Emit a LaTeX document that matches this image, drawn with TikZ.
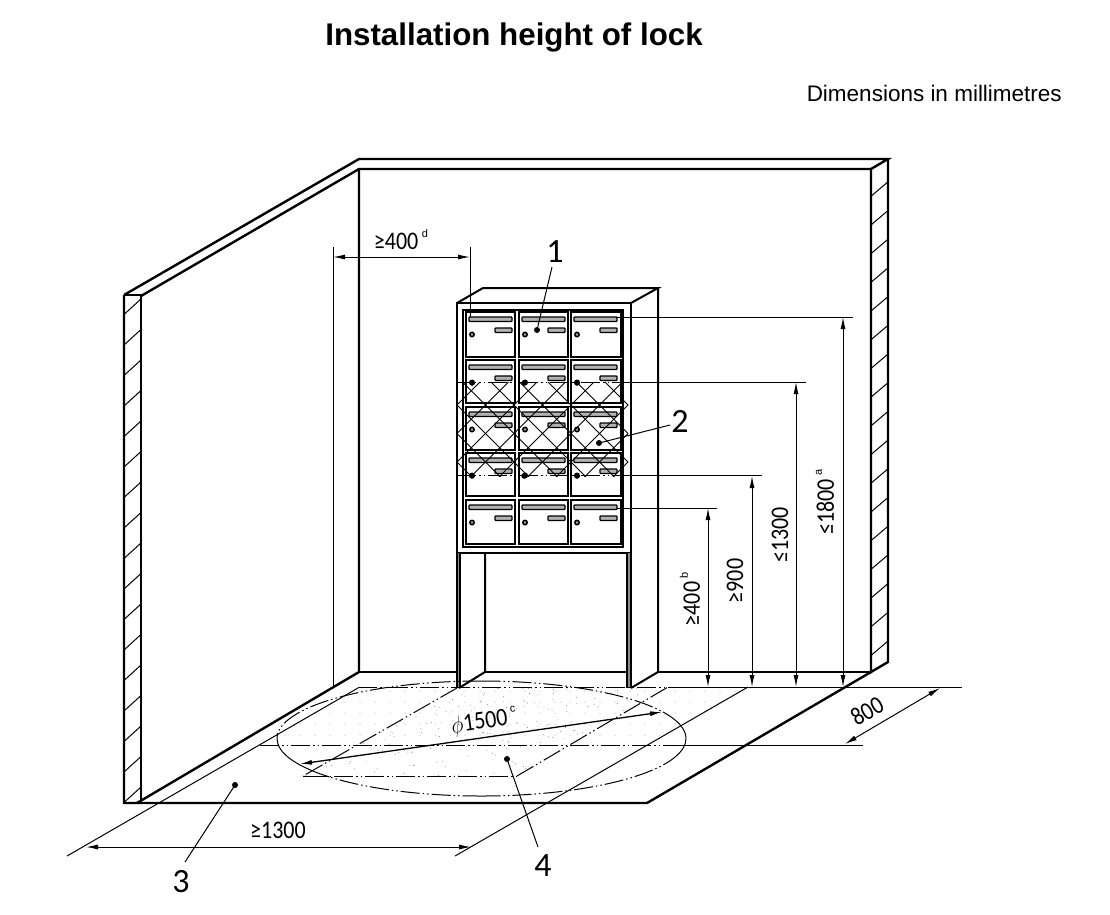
\documentclass[tikz,border=0pt]{standalone}
\usepackage{fontspec}
\setmainfont{Carlito}
\newfontfamily\titlefont{Liberation Sans}
\usetikzlibrary{arrows.meta}

\tikzset{
    heavy/.style={line width=2.4pt, line join=miter},
    medium/.style={line width=2pt},
    thin line/.style={line width=1pt},
    hatchline/.style={line width=1pt},
    phantomline/.style={line width=1pt, dash pattern=on 19pt off 3pt on 1.5pt off 3pt on 1.5pt off 3pt},
    dimline/.style={line width=1pt, {Latex[length=12pt,width=5pt]}-{Latex[length=12pt,width=5pt]}},
    dimtext/.style={font=\fontsize{22}{22}\selectfont, inner sep=0pt},
    numtext/.style={font=\fontsize{34}{34}\selectfont, inner sep=0pt},
    leaderdot/.style={circle, fill=black, inner sep=0pt, minimum size=6pt},
}
\newcommand{\noteletter}[1]{\,\raisebox{.55em}{\titlefont\fontsize{11}{11}\selectfont #1}}
\newcommand{\tallnum}[1]{\scalebox{1}[1.15]{#1}}

\begin{document}
\begin{tikzpicture}[x=1pt, y=-1pt]
    \useasboundingbox (0,0) rectangle (1110,914);

    % Headings
    \node[font=\titlefont\bfseries\fontsize{31.3}{31.3}\selectfont, inner sep=0pt] (title) at (514,37) {Installation height of lock};
    \node[font=\titlefont\fontsize{22.5}{22.5}\selectfont, inner sep=0pt, anchor=east] (units) at (1062,93) {Dimensions in millimetres};

    % Stipple on the floor
    \begin{scope}
        \clip (358,687) -- (748,687) -- (646,745) -- (258,745) -- cycle;
        \foreach \px in {255,270,...,750}
            \foreach \py in {691,702,...,745}
                \fill[black!45] (\px,\py) circle (.5);
    \end{scope}
    \begin{scope}
        \clip (457,687) -- (668,687) -- (517,776) -- (303,776) -- cycle;
        \pgfmathsetseed{11}
        \foreach \i in {1,...,340}
            \fill[black!55] ({300+370*rnd},{687+89*rnd}) circle (.45);
    \end{scope}

    % Back wall and side wall
    \draw[heavy] (124,295) -- (359,159) -- (888,159) -- (871,169);
    \draw[heavy] (141,296) -- (359,169) -- (871,169);
    \draw[heavy] (359,169) -- (359,672) -- (137,803);
    \draw[heavy] (359,672) -- (457,672);
    \draw[heavy] (485,672) -- (627,672);
    \draw[heavy] (658,672) -- (871,672);

    % Cut walls
    \draw[heavy] (124,295) -- (141,295) -- (141,800);
    \draw[heavy] (124,295) -- (124,803) -- (647,803) -- (871,672);
    \draw[heavy] (871,169) -- (871,672) -- (888,662) -- (888,159);
    \foreach \i in {0,...,16}
        \draw[hatchline] (124.5,802-30.5*\i) -- (141,787-30.5*\i);
    \foreach \i in {0,...,16}
        \draw[hatchline] (871.5,655-28.7*\i) -- (888,641-28.7*\i);

    % Cabinet
    \draw[medium] (457,303) -- (483,288) -- (658,288) -- (631,303);
    \draw[medium] (658,288) -- (658,672) -- (631,688);
    \draw[medium] (485,553) -- (485,672) -- (459,688);
    \draw[medium] (457,303) rectangle (631,553);
    \fill[black!45] (457,553) rectangle (460,688);
    \fill[black!45] (627,553) rectangle (631,688);
    \draw[medium] (457,553) -- (457,688);
    \draw[medium] (460,553) -- (460,688);
    \draw[medium] (627,553) -- (627,688);
    \draw[medium] (631,553) -- (631,688);
    \draw[heavy, fill=white] (463,310) rectangle (623,547);

    % Letter boxes
    \foreach \cx/\cw in {466/49,519/49,571/50}
        \foreach \cy/\ch in {312/45,360/43,407/43,453/43,500/44} {
            \draw[medium, fill=white] (\cx,\cy) rectangle (\cx+\cw,\cy+\ch);
            \draw[line width=1.3pt, fill=black!30, rounded corners=.8pt] (\cx+3,\cy+5) rectangle (\cx+46,\cy+9.5);
            \draw[line width=1.3pt, fill=black!30, rounded corners=.8pt] (\cx+29,\cy+16) rectangle (\cx+46,\cy+20.5);
            \draw[line width=1.5pt, fill=black!40] (\cx+6,\cy+22.5) circle (2.2);
        }

    % Zone of the lock
    \begin{scope}
        \clip (457,382) rectangle (628,476);
        \foreach \i in {-4,...,12} {
            \draw[hatchline] (457+28.5*\i,405) -- ++(-100,100);
            \draw[hatchline] (457+28.5*\i,405) -- ++(100,-100);
            \draw[hatchline] (457+28.5*\i,405) -- ++(100,100);
            \draw[hatchline] (457+28.5*\i,405) -- ++(-100,-100);
        }
    \end{scope}
    \draw[phantomline] (457,382) -- (632,382);
    \draw[phantomline] (457,475) -- (632,475);
    \foreach \lockx in {472,524,577} {
        \fill (\lockx,383) circle (2.7);
        \fill (\lockx,476) circle (2.7);
    }

    % Floor lines
    \draw[phantomline] (358,687) -- (680,687);
    \draw[thin line] (680,687) -- (962,687);
    \draw[phantomline] (260,745) -- (680,745);
    \draw[thin line] (680,745) -- (863,745);
    \draw[phantomline] (303,776) -- (517,776);
    \draw[phantomline] (517,776) -- (668,687);
    \draw[phantomline] (457,688) -- (303,776);
    \draw[thin line] (303,776) -- (325,776);

    % Circle of the floor zone, angles count clockwise here
    \draw[phantomline] (481.5,681) arc[start angle=-90, end angle=-27.5, x radius=204.5, y radius=57.5];
    \draw[phantomline] (481.5,681) arc[start angle=-90, end angle=-180, x radius=204.5, y radius=57.5];
    \draw[thin line] (277,738.5) arc[start angle=-180, end angle=-222, x radius=204.5, y radius=57.5];
    \draw[phantomline] (481.5,796) arc[start angle=-270, end angle=-222, x radius=204.5, y radius=57.5];
    \draw[phantomline] (481.5,796) arc[start angle=-270, end angle=-340, x radius=204.5, y radius=57.5];
    \draw[thin line] (686,738.5) arc[start angle=0, end angle=-27.5, x radius=204.5, y radius=57.5];
    \draw[thin line] (686,738.5) arc[start angle=0, end angle=20, x radius=204.5, y radius=57.5];

    % Extension lines
    \draw[thin line] (67,856) -- (358,688);
    \draw[thin line] (455,856) -- (748,687);
    \draw[thin line] (333,247) -- (333,687);
    \draw[thin line] (470,247) -- (470,317);
    \draw[thin line] (617,317) -- (853,317);
    \draw[thin line] (632,382) -- (806,382);
    \draw[thin line] (632,475) -- (762,475);
    \draw[thin line] (617,508) -- (717,508);

    % Dimensions
    \coordinate (w1) at (333,257);
    \coordinate (w2) at (470,257);
    \coordinate (d1) at (86,847);
    \coordinate (d2) at (471,847);
    \coordinate (f1) at (845,744);
    \coordinate (f2) at (940,688);
    \coordinate (c1) at (300,764);
    \coordinate (c2) at (662,712);
    \draw[dimline] (w1) -- (w2);
    \draw[dimline] (d1) -- (d2);
    \draw[dimline] (f1) -- (f2);
    \draw[dimline, line width=1.3pt] (c1) -- (c2);
    \foreach \hx/\hy in {843/317,796/382,752/476,708/508}
        \draw[dimline] (\hx,\hy) -- (\hx,687);

    \node[dimtext] (t400d) at (401,240) {\tallnum{≥400}\noteletter{d}};
    \node[dimtext] (t1300) at (278,830) {\tallnum{≥1300}};
    \node[dimtext, rotate=30] (t800) at (867,711) {\tallnum{800}};
    \node[dimtext, rotate=8] (t1500) at (484,722) {\tallnum{$\phi$1500}\noteletter{c}};
    \node[dimtext, rotate=90] (t1800) at (825,502) {\tallnum{≤1800}\noteletter{a}};
    \node[dimtext, rotate=90] (t1300h) at (780,535) {\tallnum{≤1300}};
    \node[dimtext, rotate=90] (t900) at (735,581) {\tallnum{≥900}};
    \node[dimtext, rotate=90] (t400b) at (690,599) {\tallnum{≥400}\noteletter{b}};

    % Reference numbers
    \node[numtext] (n1) at (555,252) {1};
    \node[numtext] (n2) at (680,421) {2};
    \node[numtext] (n3) at (181,882) {3};
    \node[numtext] (n4) at (543,866) {4};
    \node[leaderdot] (p1) at (537,330) {};
    \node[leaderdot] (p2) at (599,443) {};
    \node[leaderdot] (p3) at (235,785) {};
    \node[leaderdot] (p4) at (507,759) {};
    \draw[thin line] (p1.center) -- (552,267);
    \draw[thin line] (p2.center) -- (670,425);
    \draw[thin line] (p3.center) -- (185,862);
    \draw[thin line] (p4.center) -- (538,847);

\end{tikzpicture}
\end{document}
